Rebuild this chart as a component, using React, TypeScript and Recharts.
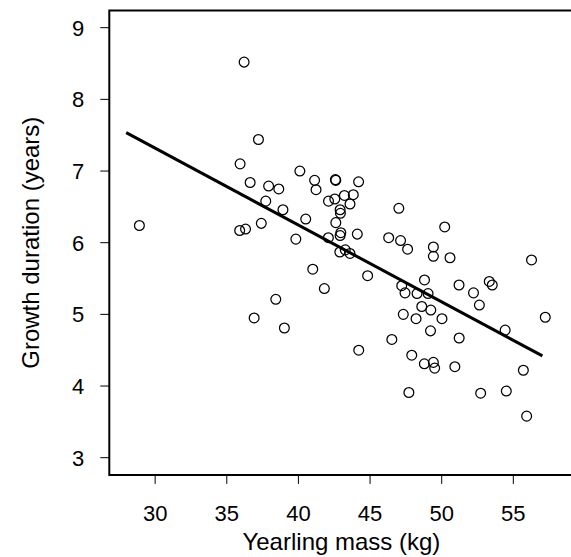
import React from 'react';
import { ScatterChart, Scatter, XAxis, YAxis, ReferenceArea } from 'recharts';

const massKg = [
  28.90, 36.21, 37.21, 35.93, 40.10, 41.13, 41.23, 36.63, 37.92, 38.63,
  37.72, 38.92, 40.51, 37.41, 35.90, 36.31, 39.82, 42.09, 42.10, 42.58,
  42.61, 44.20, 42.54, 43.21, 43.83, 43.60, 42.91, 42.93, 42.61, 42.96,
  42.91, 44.11, 42.89, 43.27, 43.60, 41.00, 44.83, 41.81, 38.42, 36.91,
  39.02, 47.01, 46.30, 47.13, 47.62, 50.21, 49.42, 49.42, 50.58, 56.27,
  48.80, 47.21, 47.44, 48.28, 49.05, 51.21, 52.22, 53.32, 53.53, 52.63,
  48.61, 49.24, 47.32, 48.21, 50.02, 57.23, 49.22, 54.43, 46.52, 51.22,
  44.21, 47.91, 48.79, 49.42, 49.51, 50.92, 55.70, 47.71, 52.72, 54.51,
  55.93,
];
const growthYears = [
  6.24, 8.52, 7.44, 7.10, 7.00, 6.87, 6.74, 6.84, 6.79, 6.75,
  6.58, 6.46, 6.33, 6.27, 6.17, 6.19, 6.05, 6.07, 6.58, 6.88,
  6.87, 6.85, 6.61, 6.66, 6.67, 6.54, 6.46, 6.41, 6.28, 6.14,
  6.10, 6.12, 5.87, 5.90, 5.85, 5.63, 5.54, 5.36, 5.21, 4.95,
  4.81, 6.48, 6.07, 6.03, 5.91, 6.22, 5.94, 5.81, 5.79, 5.76,
  5.48, 5.40, 5.30, 5.29, 5.29, 5.41, 5.30, 5.46, 5.41, 5.13,
  5.11, 5.06, 5.00, 4.94, 4.94, 4.96, 4.77, 4.78, 4.65, 4.67,
  4.50, 4.43, 4.31, 4.33, 4.25, 4.27, 4.22, 3.91, 3.90, 3.93,
  3.58,
];
const fitX = [27.98, 57.03];
const fitY = [7.535, 4.42];
const xTicks = [30, 35, 40, 45, 50, 55];
const yTicks = [3, 4, 5, 6, 7, 8, 9];
const xDomain = [26.8, 59.2];
const yDomain = [2.76, 9.24];

const points = massKg.map((x, i) => ({ x, y: growthYears[i] }));
const fitLine = fitX.map((x, i) => ({ x, y: fitY[i] }));

const FONT = '"Liberation Sans", Arial, Helvetica, sans-serif';

const OpenCircle = (props: any) => {
  const { cx, cy } = props;
  if (cx == null || cy == null) return <g />;
  return <circle cx={cx} cy={cy} r={4.9} fill="none" stroke="#000" strokeWidth={1.25} />;
};

const NoShape = () => <g />;

export default function App() {
  return (
    <div style={{ position: 'fixed', left: 0, top: 0, width: 571, height: 557, overflow: 'hidden', background: '#fff' }}>
      <ScatterChart
        width={580}
        height={557}
        margin={{ top: 10.5, right: 6.5, left: 0, bottom: 0 }}
      >
        <XAxis
          type="number"
          dataKey="x"
          domain={xDomain}
          ticks={xTicks}
          allowDataOverflow
          height={82.1}
          axisLine={false}
          tickLine={{ stroke: '#000', strokeWidth: 1 }}
          tickSize={9}
          tickMargin={21}
          tick={{ fill: '#000', fontSize: 22, fontFamily: FONT }}
          label={{
            content: (p: any) => {
              const vb = p.viewBox || {};
              return (
                <text
                  x={vb.x + vb.width / 2}
                  y={vb.y + 75}
                  textAnchor="middle"
                  fontSize={24}
                  fontFamily={FONT}
                  fill="#000"
                >
                  Yearling mass (kg)
                </text>
              );
            },
          }}
        />
        <YAxis
          type="number"
          dataKey="y"
          domain={yDomain}
          ticks={yTicks}
          allowDataOverflow
          width={109.3}
          axisLine={false}
          tickLine={{ stroke: '#000', strokeWidth: 1 }}
          tickSize={9}
          tickMargin={16}
          tick={{ fill: '#000', fontSize: 22, fontFamily: FONT }}
          label={{
            content: (p: any) => {
              const vb = p.viewBox || {};
              const cx = vb.x + 31;
              const cy = vb.y + vb.height / 2;
              return (
                <text
                  x={cx}
                  y={cy}
                  transform={`rotate(-90 ${cx} ${cy})`}
                  textAnchor="middle"
                  dominantBaseline="central"
                  fontSize={24}
                  fontFamily={FONT}
                  fill="#000"
                >
                  Growth duration (years)
                </text>
              );
            },
          }}
        />
        <ReferenceArea
          x1={xDomain[0]}
          x2={xDomain[1]}
          y1={yDomain[0]}
          y2={yDomain[1]}
          fill="none"
          fillOpacity={0}
          stroke="#000"
          strokeWidth={2}
          ifOverflow="visible"
        />
        <Scatter
          data={fitLine}
          line={{ stroke: '#000', strokeWidth: 3 }}
          shape={NoShape}
          isAnimationActive={false}
        />
        <Scatter data={points} shape={OpenCircle} isAnimationActive={false} />
      </ScatterChart>
    </div>
  );
}
